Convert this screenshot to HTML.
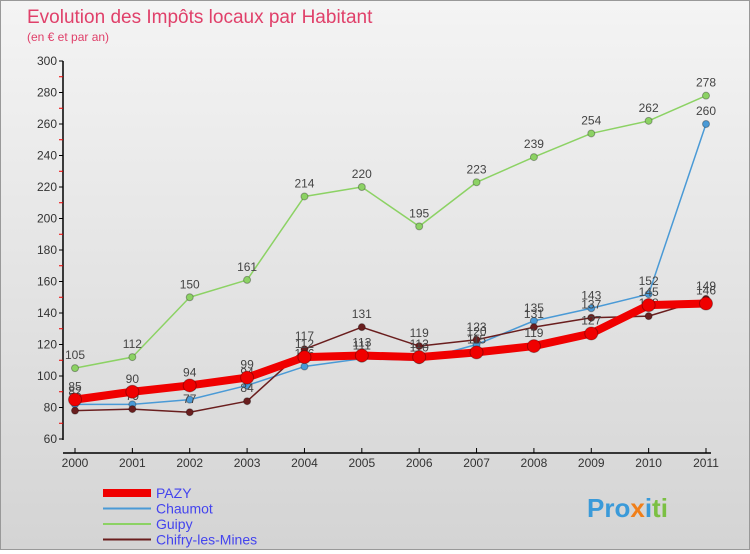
<!DOCTYPE html>
<html><head><meta charset="utf-8"><style>
body{margin:0;width:750px;height:550px;overflow:hidden;font-family:"Liberation Sans",sans-serif}
#wrap{position:relative;width:748px;height:548px;border:1px solid #999;background:linear-gradient(#f4f4f4,#d4d4d4)}
</style></head><body>
<div id="wrap">
<svg id="chart" width="748" height="548">
<text x="26" y="22" font-size="19" fill="#e0406a">Evolution des Impôts locaux par Habitant</text>
<text x="26" y="40" font-size="12" fill="#e0406a">(en € et par an)</text>
<text x="586" y="516" font-size="26" font-weight="bold" fill="#3a9ad9">Pro<tspan fill="#f07f1a">x</tspan><tspan fill="#3a9ad9">i</tspan><tspan fill="#7bc043">ti</tspan></text>
</svg>
</div>
<script>
const years=["2000","2001","2002","2003","2004","2005","2006","2007","2008","2009","2010","2011"];
const yTicks=[60,80,100,120,140,160,180,200,220,240,260,280,300];
const pazy=[85,90,94,99,112,113,112,115,119,127,145,146];
const chaumot=[82,82,85,94,106,111,110,120,135,143,152,260];
const guipy=[105,112,150,161,214,220,195,223,239,254,262,278];
const chifry=[78,79,77,84,117,131,119,123,131,137,138,149];
const names=["PAZY","Chaumot","Guipy","Chifry-les-Mines"];
const svg=document.getElementById('chart');
const NS='http://www.w3.org/2000/svg';
const x=i=>74+i*(631/11);
const y=v=>438-(v-60)*(378/240);
function mk(t,a,p){const e=document.createElementNS(NS,t);for(const k in a)e.setAttribute(k,a[k]);(p||svg).appendChild(e);return e;}
// axes
let ax=mk('line',{x1:62,y1:60,x2:62,y2:439,stroke:'#000','stroke-width':1.5});


let bx=mk('line',{x1:62,y1:452,x2:710,y2:452,stroke:'#000','stroke-width':1.5});


yTicks.forEach((v,i)=>{
  mk('line',{x1:58,y1:y(v),x2:62,y2:y(v),stroke:'#000'});
  if(i<yTicks.length-1)mk('line',{x1:58,y1:y(v+10),x2:62,y2:y(v+10),stroke:'#e00'});
  const t=mk('text',{x:56,y:y(v)+4,'font-size':12,'text-anchor':'end',fill:'#333'});t.textContent=v;
  
  
});
years.forEach((yr,i)=>{
  mk('line',{x1:x(i),y1:447,x2:x(i),y2:452,stroke:'#000'});
  const t=mk('text',{x:x(i),y:466,'font-size':12,'text-anchor':'middle',fill:'#333'});t.textContent=yr;
  
  
});
function series(data,color,w,r,name){
  const g=mk('g',{});
  
  
  mk('polyline',{points:data.map((v,i)=>x(i)+','+y(v)).join(' '),fill:'none',stroke:color,'stroke-width':w,'stroke-linejoin':'round'},g);
  data.forEach((v,i)=>{
    const c=mk('circle',{cx:x(i),cy:y(v),r:r,fill:color,stroke:'rgba(0,0,0,0.3)'},g);
    
    
    const t=mk('text',{x:x(i),y:y(v)-9,'font-size':12,'text-anchor':'middle',fill:'#444'},g);t.textContent=v;
    
    
  });
}
series(guipy,'#8cd264',1.5,3.5,'guipy');
series(chaumot,'#4a9ad6',1.5,3.5,'chaumot');
series(chifry,'#6a1e1e',1.5,3.5,'chifry');
series(pazy,'#f00000',8,6.5,'pazy');
// legend
const lc=['#f00000','#4a9ad6','#8cd264','#6a1e1e'],lw=[8,2,2,2];
names.forEach((n,i)=>{
  const g=mk('g',{});
  
  
  const ly=492+i*15.5;
  mk('line',{x1:102,y1:ly,x2:150,y2:ly,stroke:lc[i],'stroke-width':lw[i]},g);
  const t=mk('text',{x:155,y:ly+5,'font-size':14,fill:'#4444ee'},g);t.textContent=n;
});
</script>
</body></html>
